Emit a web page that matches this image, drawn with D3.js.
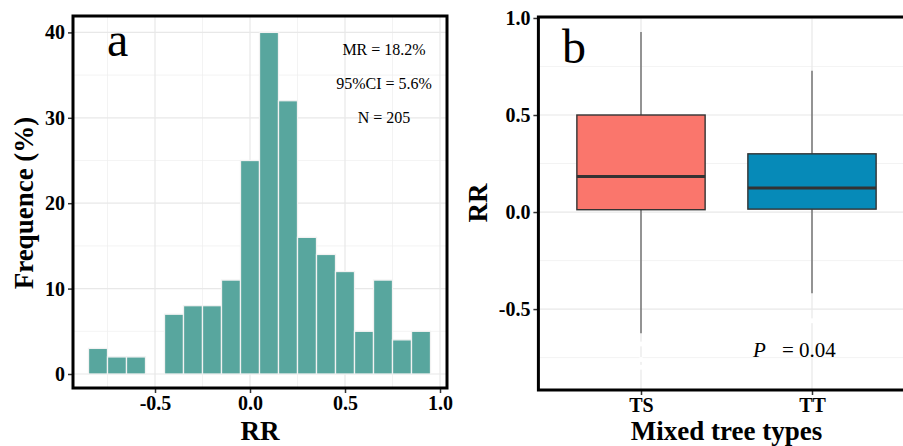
<!DOCTYPE html>
<html>
<head>
<meta charset="utf-8">
<script src="https://cdn.jsdelivr.net/npm/d3@7"></script>
<style>
  body { margin: 0; background: #fff; }
  svg { display: block; font-family: "Liberation Serif", "Times New Roman", serif; }
  .tick text { font-family: "Liberation Serif", "Times New Roman", serif; font-weight: bold; font-size: 20px; fill: #000; }
  .tick line { stroke: #333; stroke-width: 1.5; }
  .domain { display: none; }
</style>
</head>
<body>
<div id="chart"></div>
<script>
// ---- panel a: histogram of RR ----
var binCenters = [-0.8, -0.7, -0.6, -0.5, -0.4, -0.3, -0.2, -0.1, 0.0, 0.1, 0.2, 0.3, 0.4, 0.5, 0.6, 0.7, 0.8, 0.9];
var binFreq    = [3, 2, 2, 0, 7, 8, 8, 11, 25, 40, 32, 16, 14, 12, 5, 11, 4, 5];
var binWidth = 0.1;
var histXTicks = [-0.5, 0.0, 0.5, 1.0];
var histYTicks = [0, 10, 20, 30, 40];
var histNotes = ["MR = 18.2%", "95%CI = 5.6%", "N = 205"];

// ---- panel b: boxplot by mixed tree type ----
var groups      = ["TS", "TT"];
var boxQ1       = [0.012, 0.015];
var boxMedian   = [0.183, 0.124];
var boxQ3       = [0.50, 0.30];
var whiskerLow  = [-0.624, -0.418];
var whiskerHigh = [0.928, 0.728];
var outliersTS  = [-0.68, -0.76, -0.80];
var outliersTT  = [-0.56];
var boxFill     = ["#fa766c", "#068ab8"];
var boxYTicks   = [-0.5, 0.0, 0.5, 1.0];

var W = 903, H = 446;
var svg = d3.select("#chart").append("svg")
    .attr("width", W)
    .attr("height", H);

var fmt = function(d) { return d3.format(".1f")(d).replace("\u2212", "-"); };

function drawGrid(g, xs, ys, xMajor, xMinor, yMajor, yMinor, x0, x1, y0, y1) {
    xMinor.forEach(function(v) {
        g.append("line").attr("x1", xs(v)).attr("x2", xs(v)).attr("y1", y0).attr("y2", y1)
            .attr("stroke", "#eeeeee").attr("stroke-width", 0.7);
    });
    yMinor.forEach(function(v) {
        g.append("line").attr("y1", ys(v)).attr("y2", ys(v)).attr("x1", x0).attr("x2", x1)
            .attr("stroke", "#eeeeee").attr("stroke-width", 0.7);
    });
    xMajor.forEach(function(v) {
        g.append("line").attr("x1", xs(v)).attr("x2", xs(v)).attr("y1", y0).attr("y2", y1)
            .attr("stroke", "#e8e8e8").attr("stroke-width", 1.2);
    });
    yMajor.forEach(function(v) {
        g.append("line").attr("y1", ys(v)).attr("y2", ys(v)).attr("x1", x0).attr("x2", x1)
            .attr("stroke", "#e8e8e8").attr("stroke-width", 1.2);
    });
}

/* ===================== panel a ===================== */
var a = { left: 73, right: 447, top: 16, bottom: 388 };

var xA = d3.scaleLinear().domain([-0.9316, 1.0368]).range([a.left, a.right]);
var yA = d3.scaleLinear().domain([-1.64, 41.92]).range([a.bottom, a.top]);

var gA = svg.append("g");

drawGrid(gA, xA, yA,
    histXTicks, [-0.75, -0.25, 0.25, 0.75],
    histYTicks, [5, 15, 25, 35],
    a.left, a.right, a.top, a.bottom);

// bars
gA.selectAll(".bar")
    .data(binCenters.map(function(c, i) { return [c, binFreq[i]]; }).filter(function(d) { return d[1] > 0; }))
    .enter()
    .append("rect")
    .attr("class", "bar")
    .attr("x", function(d) { return xA(d[0] - binWidth / 2); })
    .attr("width", function(d) { return xA(d[0] + binWidth / 2) - xA(d[0] - binWidth / 2); })
    .attr("y", function(d) { return yA(d[1]); })
    .attr("height", function(d) { return yA(0) - yA(d[1]); })
    .attr("fill", "#58a69e")
    .attr("stroke", "#f2f2f2")
    .attr("stroke-width", 1.3);

// axes
gA.append("g")
    .attr("transform", "translate(0," + a.bottom + ")")
    .call(d3.axisBottom(xA).tickValues(histXTicks).tickFormat(fmt).tickSize(5).tickPadding(3));

gA.append("g")
    .attr("transform", "translate(" + a.left + ",0)")
    .call(d3.axisLeft(yA).tickValues(histYTicks).tickSize(5).tickPadding(3));

// border
gA.append("rect")
    .attr("x", a.left).attr("y", a.top)
    .attr("width", a.right - a.left).attr("height", a.bottom - a.top)
    .attr("fill", "none").attr("stroke", "#000").attr("stroke-width", 3);

// panel letter + notes
gA.append("text")
    .attr("x", 107).attr("y", 56)
    .attr("font-size", 48)
    .text("a");

gA.selectAll(".note")
    .data(histNotes)
    .enter()
    .append("text")
    .attr("class", "note")
    .attr("x", 384)
    .attr("y", function(d, i) { return 55 + i * 34; })
    .attr("text-anchor", "middle")
    .attr("font-size", 16)
    .text(function(d) { return d; });

// titles
gA.append("text")
    .attr("x", (a.left + a.right) / 2).attr("y", 440)
    .attr("text-anchor", "middle")
    .attr("font-size", 27).attr("font-weight", "bold")
    .text("RR");

gA.append("text")
    .attr("transform", "translate(33,203) rotate(-90)")
    .attr("text-anchor", "middle")
    .attr("font-size", 27).attr("font-weight", "bold")
    .text("Frequence (%)");

/* ===================== panel b ===================== */
var b = { left: 538.4, right: 914.6, top: 17, bottom: 390 };

var xB = d3.scalePoint().domain(groups).range([b.left, b.right]).padding(0.6);
var yB = d3.scaleLinear().domain([-0.917, 1.005]).range([b.bottom, b.top]);
var boxW = xB.step() * 0.75;

var gB = svg.append("g");

drawGrid(gB, xB, yB,
    groups, [],
    boxYTicks, [-0.75, -0.25, 0.25, 0.75],
    b.left, b.right, b.top, b.bottom);

var boxes = gB.selectAll(".box")
    .data(groups)
    .enter()
    .append("g")
    .attr("class", "box");

// whiskers
boxes.append("line")
    .attr("x1", function(d) { return xB(d); }).attr("x2", function(d) { return xB(d); })
    .attr("y1", function(d, i) { return yB(whiskerHigh[i]); })
    .attr("y2", function(d, i) { return yB(boxQ3[i]); })
    .attr("stroke", "#555").attr("stroke-width", 1.2);

boxes.append("line")
    .attr("x1", function(d) { return xB(d); }).attr("x2", function(d) { return xB(d); })
    .attr("y1", function(d, i) { return yB(boxQ1[i]); })
    .attr("y2", function(d, i) { return yB(whiskerLow[i]); })
    .attr("stroke", "#555").attr("stroke-width", 1.2);

// box
boxes.append("rect")
    .attr("x", function(d) { return xB(d) - boxW / 2; })
    .attr("width", boxW)
    .attr("y", function(d, i) { return yB(boxQ3[i]); })
    .attr("height", function(d, i) { return yB(boxQ1[i]) - yB(boxQ3[i]); })
    .attr("fill", function(d, i) { return boxFill[i]; })
    .attr("stroke", "#333").attr("stroke-width", 1.4);

// median
boxes.append("line")
    .attr("x1", function(d) { return xB(d) - boxW / 2; })
    .attr("x2", function(d) { return xB(d) + boxW / 2; })
    .attr("y1", function(d, i) { return yB(boxMedian[i]); })
    .attr("y2", function(d, i) { return yB(boxMedian[i]); })
    .attr("stroke", "#333").attr("stroke-width", 3);

// outliers (drawn white, only visible where they cover grid lines)
var outlierPts = outliersTS.map(function(v) { return ["TS", v]; })
    .concat(outliersTT.map(function(v) { return ["TT", v]; }));
gB.selectAll(".outlier")
    .data(outlierPts)
    .enter()
    .append("circle")
    .attr("class", "outlier")
    .attr("cx", function(d) { return xB(d[0]); })
    .attr("cy", function(d) { return yB(d[1]); })
    .attr("r", 2.5)
    .attr("fill", "#fff");

// axes
gB.append("g")
    .attr("transform", "translate(0," + b.bottom + ")")
    .call(d3.axisBottom(xB).tickSize(5).tickPadding(3));

gB.append("g")
    .attr("transform", "translate(" + b.left + ",0)")
    .call(d3.axisLeft(yB).tickValues(boxYTicks).tickFormat(fmt).tickSize(5).tickPadding(3));

// border
gB.append("rect")
    .attr("x", b.left).attr("y", b.top)
    .attr("width", b.right - b.left).attr("height", b.bottom - b.top)
    .attr("fill", "none").attr("stroke", "#000").attr("stroke-width", 3);

gB.append("text")
    .attr("x", 562).attr("y", 63)
    .attr("font-size", 48)
    .text("b");

// p-value
gB.append("text")
    .attr("x", 753).attr("y", 357)
    .attr("font-size", 21).attr("font-style", "italic")
    .text("P");
gB.append("text")
    .attr("x", 782).attr("y", 357)
    .attr("font-size", 21)
    .text("= 0.04");

// titles
gB.append("text")
    .attr("x", (b.left + b.right) / 2).attr("y", 440)
    .attr("text-anchor", "middle")
    .attr("font-size", 27).attr("font-weight", "bold")
    .text("Mixed tree types");

gB.append("text")
    .attr("transform", "translate(487,203) rotate(-90)")
    .attr("text-anchor", "middle")
    .attr("font-size", 27).attr("font-weight", "bold")
    .text("RR");
</script>
</body>
</html>
